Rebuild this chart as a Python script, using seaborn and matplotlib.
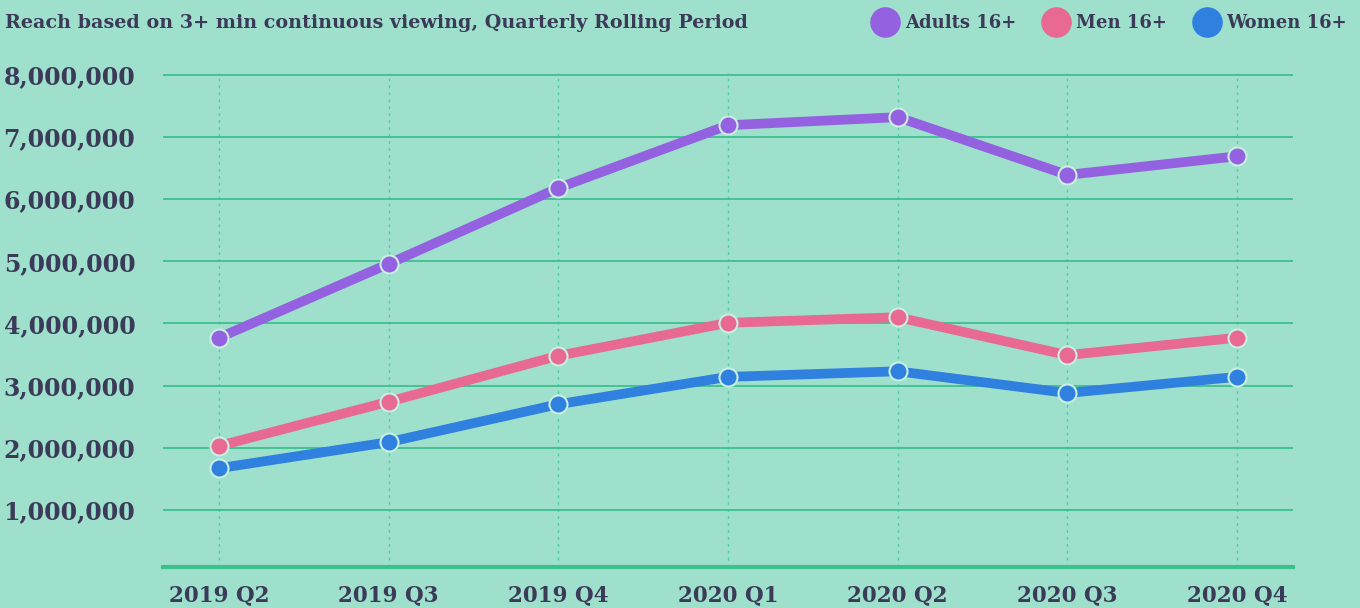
import pandas as pd
import matplotlib.pyplot as plt
import seaborn as sns
from matplotlib.lines import Line2D
from matplotlib.ticker import FuncFormatter

quarters = ['2019 Q2', '2019 Q3', '2019 Q4', '2020 Q1', '2020 Q2', '2020 Q3', '2020 Q4']
adults = [3770000, 4960000, 6180000, 7190000, 7320000, 6390000, 6690000]
men = [2030000, 2740000, 3480000, 4010000, 4100000, 3490000, 3770000]
women = [1670000, 2090000, 2700000, 3140000, 3230000, 2880000, 3140000]
series = ['Adults 16+', 'Men 16+', 'Women 16+']
colors = ['#9461e0', '#e86a92', '#3080e0']

bg = '#9ee0cc'
grid = '#3dbf8f'
ink = '#3b3a58'

df = pd.DataFrame({
    'quarter': quarters * 3,
    'reach': adults + men + women,
    'group': [s for s in series for _ in quarters],
})

sns.set_theme(style='white')
plt.rcParams['font.family'] = ['DejaVu Serif']

fig = plt.figure(figsize=(13.6, 6.08), dpi=100, facecolor=bg)
ax = fig.add_axes([0.1199, 0.0674, 0.8308, 0.8125], facecolor=bg)

sns.lineplot(data=df, x='quarter', y='reach', hue='group', palette=colors,
             sort=False, linewidth=7, marker='o', markersize=13,
             markeredgecolor='#c8efe2', markeredgewidth=1.5, legend=False, ax=ax)

ax.set_xlim(-0.33, 6.33)
ax.set_ylim(80000, 8030000)
ax.set_yticks(range(1000000, 8000001, 1000000))
ax.yaxis.set_major_formatter(FuncFormatter(lambda v, p: f'{int(v):,}'))
ax.grid(axis='y', color=grid, linewidth=1.3)
ax.grid(axis='x', color='#4fcf9f', linewidth=1, linestyle=(0, (2, 3)))
ax.set_axisbelow(True)
for s in ['top', 'right', 'left']:
    ax.spines[s].set_visible(False)
ax.spines['bottom'].set_color(grid)
ax.spines['bottom'].set_linewidth(3)
ax.tick_params(length=0, colors=ink)
ax.tick_params(axis='y', labelsize=17, pad=20)
ax.tick_params(axis='x', labelsize=15.5, pad=12)
for lab in ax.get_xticklabels() + ax.get_yticklabels():
    lab.set_fontweight('bold')
ax.set_xlabel('')
ax.set_ylabel('')

fig.text(0.004, 0.962, 'Reach based on 3+ min continuous viewing, Quarterly Rolling Period',
         fontsize=13.8, color=ink, va='center', ha='left', fontweight='semibold')

handles = [Line2D([], [], linestyle='none', marker='o', markersize=21,
                  markerfacecolor=c, markeredgecolor=c) for c in colors]
fig.legend(handles, series, loc='center right', bbox_to_anchor=(0.9905, 0.962),
           ncol=3, frameon=False, handletextpad=0.5, columnspacing=1.6,
           prop={'size': 13, 'weight': 'bold'}, labelcolor=ink, handlelength=1.2,
           borderaxespad=0, borderpad=0)

fig.savefig('out.png', dpi=100, facecolor=bg)
